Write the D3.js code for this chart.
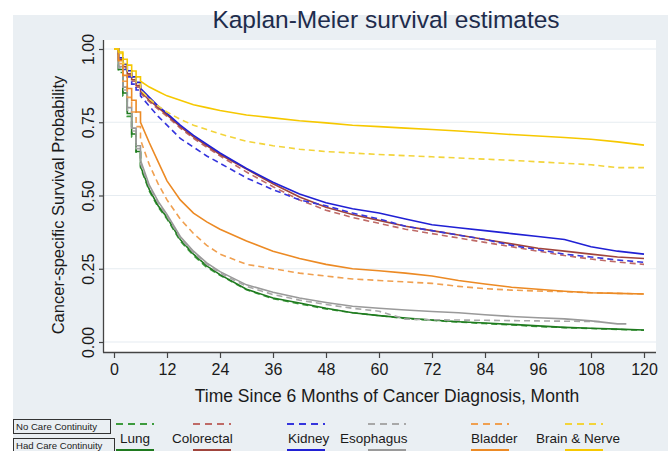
<!DOCTYPE html>
<meta charset="utf-8">
<style>
body { margin: 0; background: #fff; }
text { font-family: "Liberation Sans", Arial, sans-serif; }
</style>
<svg width="668" height="451"></svg>
<script src="https://cdn.jsdelivr.net/npm/d3@7"></script>
<script>
var months = [0,1,2,3,4,5,6,8,10,12,15,18,21,24,30,36,42,48,54,60,66,72,78,84,90,96,102,108,114,120];
var cancers = ["Lung", "Colorectal", "Kidney", "Esophagus", "Bladder", "Brain & Nerve"];

// survival, no care continuity (dashed) / had care continuity (solid)
var lungNo   = [1,0.92,0.84,0.77,0.70,0.645,0.595,0.515,0.46,0.42,0.345,0.295,0.255,0.228,0.178,0.148,0.13,0.113,0.10,0.09,0.08,0.074,0.068,0.063,0.058,0.053,0.049,0.046,0.043,0.04];
var lungHad  = [1,0.93,0.85,0.78,0.71,0.65,0.60,0.52,0.465,0.425,0.35,0.30,0.26,0.23,0.18,0.15,0.133,0.115,0.10,0.09,0.082,0.075,0.069,0.065,0.06,0.055,0.05,0.047,0.044,0.041];
var colorNo  = [1,0.965,0.935,0.91,0.89,0.87,0.85,0.82,0.795,0.77,0.73,0.695,0.665,0.635,0.58,0.53,0.485,0.45,0.425,0.405,0.385,0.37,0.355,0.34,0.325,0.31,0.295,0.283,0.273,0.265];
var colorHad = [1,0.965,0.94,0.915,0.895,0.875,0.855,0.825,0.80,0.775,0.735,0.70,0.67,0.64,0.59,0.54,0.495,0.46,0.435,0.415,0.395,0.38,0.365,0.35,0.335,0.32,0.31,0.30,0.29,0.285];
var kidneyNo = [1,0.96,0.93,0.905,0.88,0.86,0.84,0.805,0.77,0.74,0.695,0.665,0.635,0.61,0.56,0.52,0.485,0.465,0.44,0.42,0.395,0.38,0.365,0.35,0.33,0.315,0.30,0.29,0.28,0.272];
var kidneyHad= [1,0.97,0.948,0.926,0.905,0.886,0.866,0.835,0.805,0.78,0.74,0.705,0.675,0.645,0.592,0.545,0.505,0.475,0.455,0.44,0.42,0.40,0.39,0.38,0.37,0.36,0.35,0.325,0.31,0.30];
var esophNo  = [1,0.935,0.86,0.79,0.72,0.66,0.61,0.53,0.475,0.43,0.355,0.305,0.265,0.235,0.19,0.162,0.143,0.128,0.115,0.105,0.078,0.076,0.075,0.074,0.073,0.072,0.071,0.07,null,null];
var esophHad = [1,0.94,0.87,0.80,0.73,0.67,0.62,0.535,0.48,0.435,0.36,0.31,0.27,0.24,0.195,0.17,0.15,0.135,0.122,0.115,0.109,0.104,0.10,0.093,0.087,0.083,0.079,0.072,0.062,null];
var bladNo   = [1,0.95,0.89,0.835,0.785,0.735,0.69,0.605,0.54,0.485,0.42,0.37,0.33,0.30,0.265,0.25,0.235,0.225,0.215,0.21,0.205,0.20,0.19,0.182,0.177,0.174,0.172,0.168,0.166,0.164];
var bladHad  = [1,0.96,0.91,0.865,0.825,0.785,0.75,0.68,0.615,0.55,0.485,0.44,0.41,0.385,0.345,0.31,0.285,0.265,0.25,0.243,0.235,0.225,0.21,0.198,0.187,0.18,0.173,0.168,0.166,0.164];
var brainNo  = [1,0.985,0.95,0.925,0.90,0.88,0.86,0.83,0.805,0.785,0.76,0.74,0.725,0.71,0.685,0.67,0.658,0.65,0.645,0.64,0.636,0.632,0.628,0.624,0.62,0.615,0.61,0.605,0.595,0.595];
var brainHad = [1,0.99,0.965,0.945,0.925,0.905,0.89,0.87,0.855,0.84,0.825,0.81,0.80,0.79,0.775,0.765,0.755,0.748,0.74,0.735,0.73,0.725,0.72,0.714,0.708,0.703,0.698,0.692,0.683,0.672];
// last month of follow-up for each group (no / had)
var lastNo  = [120,120,120,110,120,120];
var lastHad = [120,120,120,116,120,120];

var noSeries  = [lungNo, colorNo, kidneyNo, esophNo, bladNo, brainNo];
var hadSeries = [lungHad, colorHad, kidneyHad, esophHad, bladHad, brainHad];
var colNo  = ["#3d9b3d", "#bf6a66", "#3535dd", "#a8a8a8", "#f0a050", "#f3d43a"];
var colHad = ["#1f7a1f", "#a0443c", "#2020d4", "#9a9a9a", "#ec8a24", "#f6c800"];

var yTicks = [0, 0.25, 0.5, 0.75, 1];
var xTicks = d3.range(0, 121, 12);

var svg = d3.select("svg");

var x = d3.scaleLinear().domain([0, 120]).range([114, 644]);
var y = d3.scaleLinear().domain([0, 1]).range([342, 49]);

// backgrounds
svg.append("rect").attr("x", 13).attr("y", 15).attr("width", 655).attr("height", 436).attr("fill", "#eaeff3");
svg.append("rect").attr("x", 104).attr("y", 40).attr("width", 552).attr("height", 312).attr("fill", "#fff");

// grid
svg.append("g").selectAll("line").data(yTicks).join("line")
    .attr("x1", 104).attr("x2", 656)
    .attr("y1", function(d) { return y(d); }).attr("y2", function(d) { return y(d); })
    .attr("stroke", "#e6ecf1").attr("stroke-width", 1.2);

// title
svg.append("text").attr("x", 386).attr("y", 28).attr("text-anchor", "middle")
    .attr("font-size", 24.5).attr("fill", "#1e2c4c").text("Kaplan-Meier survival estimates");

// axes
var xAxis = svg.append("g").attr("transform", "translate(0,352)")
    .call(d3.axisBottom(x).tickValues(xTicks).tickSize(6).tickSizeOuter(0).tickPadding(4));
var yAxis = svg.append("g").attr("transform", "translate(104,0)")
    .call(d3.axisLeft(y).tickValues(yTicks).tickSize(5).tickSizeOuter(0).tickFormat(d3.format(".2f")));
[xAxis, yAxis].forEach(function(g) {
  g.select(".domain").remove();
  g.selectAll("line").attr("stroke", "#444").attr("stroke-width", 1.2);
  g.selectAll("text").attr("font-size", 16).attr("fill", "#1a1a1a")
      .attr("font-family", "Liberation Sans, Arial, sans-serif");
});
xAxis.selectAll("text").attr("dy", "0.8em");
yAxis.selectAll("text").attr("transform", "rotate(-90)")
    .attr("x", 0).attr("y", -10).attr("dy", 0).attr("text-anchor", "middle");

svg.append("line").attr("x1", 103.5).attr("x2", 103.5).attr("y1", 40).attr("y2", 352.5)
    .attr("stroke", "#444").attr("stroke-width", 1.3);
svg.append("line").attr("x1", 103).attr("x2", 656).attr("y1", 352.5).attr("y2", 352.5)
    .attr("stroke", "#444").attr("stroke-width", 1.3);

svg.append("text").attr("transform", "translate(64,205) rotate(-90)")
    .attr("text-anchor", "middle").attr("font-size", 16.5).attr("fill", "#1a1a1a")
    .text("Cancer-specific Survival Probability");
svg.append("text").attr("x", 387).attr("y", 402).attr("text-anchor", "middle")
    .attr("font-size", 17.5).attr("fill", "#1a1a1a")
    .text("Time Since 6 Months of Cancer Diagnosis, Month");

// curves: monthly stairs at the start, straight runs between sparser readings
var line = d3.line()
    .x(function(d) { return x(d[0]); })
    .y(function(d) { return y(d[1]); });

function points(vals, last) {
  var pts = [];
  months.forEach(function(m, i) { if (vals[i] != null && m <= last) pts.push([m, vals[i]]); });
  if (pts[pts.length - 1][0] < last) pts.push([last, pts[pts.length - 1][1]]);
  var out = [pts[0]];
  for (var k = 1; k < pts.length; k++) {
    if (pts[k][0] - pts[k - 1][0] <= 1) out.push([pts[k][0], pts[k - 1][1]]);
    out.push(pts[k]);
  }
  return out;
}

var curves = svg.append("g").attr("fill", "none").attr("stroke-width", 1.6);
cancers.forEach(function(c, i) {
  curves.append("path").attr("d", line(points(noSeries[i], lastNo[i])))
      .attr("stroke", colNo[i]).attr("stroke-dasharray", "6,4");
  curves.append("path").attr("d", line(points(hadSeries[i], lastHad[i])))
      .attr("stroke", colHad[i]);
});

// legend
var legX  = [116, 193, 287, 368, 471, 565];
var textX = [120, 172, 288, 340, 471, 536];
var leg = svg.append("g");
[["No Care Continuity", 419, 97], ["Had Care Continuity", 438, 101]].forEach(function(b) {
  leg.append("rect").attr("x", 13.5).attr("y", b[1] + 0.5).attr("width", b[2]).attr("height", 14)
      .attr("fill", "#eaeff3").attr("stroke", "#333").attr("stroke-width", 1);
  leg.append("text").attr("x", 16).attr("y", b[1] + 11).attr("font-size", 9.6).attr("fill", "#222").text(b[0]);
});
cancers.forEach(function(c, i) {
  leg.append("line").attr("x1", legX[i]).attr("x2", legX[i] + 38).attr("y1", 424).attr("y2", 424)
      .attr("stroke", colNo[i]).attr("stroke-width", 2).attr("stroke-dasharray", "7,5");
  leg.append("line").attr("x1", legX[i]).attr("x2", legX[i] + 38).attr("y1", 450).attr("y2", 450)
      .attr("stroke", colHad[i]).attr("stroke-width", 2.2);
  leg.append("text").attr("x", textX[i]).attr("y", 443).attr("font-size", 13.5).attr("fill", "#1a1a1a").text(c);
});
</script>
